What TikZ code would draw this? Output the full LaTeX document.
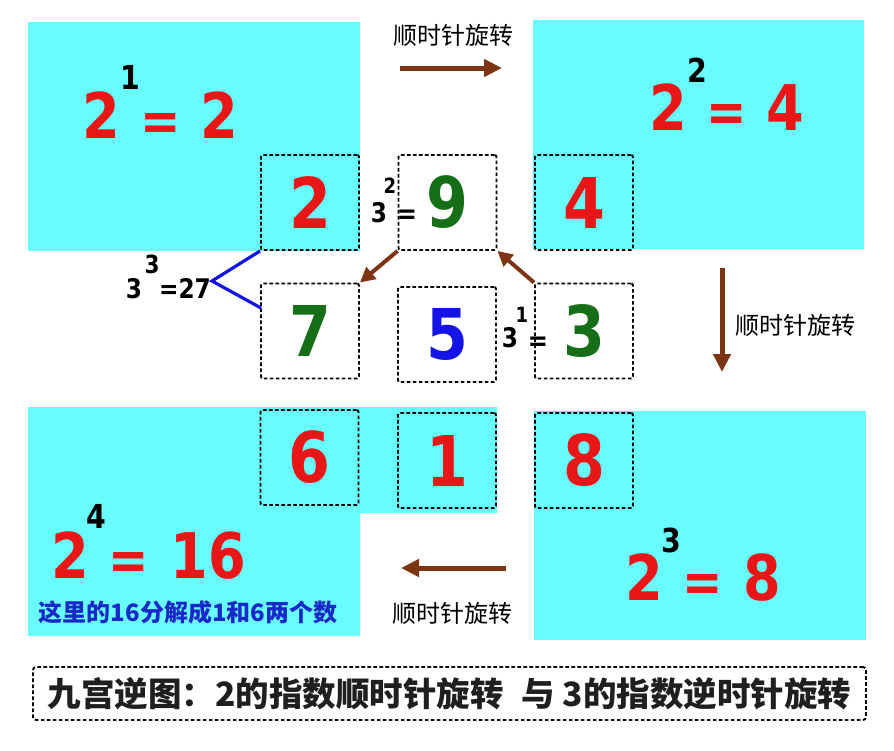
\documentclass[tikz,border=0pt]{standalone}
\usepackage{fontspec}
\setmainfont{DejaVu Sans}
\newfontfamily\cjk{Noto Sans CJK SC}
\newfontfamily\numf[FakeStretch=0.86]{DejaVu Sans}
\usetikzlibrary{arrows.meta}
\definecolor{cyanbg}{RGB}{104,252,252}
\definecolor{redd}{RGB}{232,22,22}
\definecolor{greend}{RGB}{22,110,22}
\definecolor{blued}{RGB}{20,20,230}
\definecolor{brownc}{RGB}{125,52,18}
\definecolor{bluet}{RGB}{25,40,200}
\newcommand\myfs[1]{\fontsize{#1}{#1}\selectfont}
\begin{document}
\begin{tikzpicture}[x=1pt,y=-1pt,
  cell/.style={draw=black, dash pattern=on 3.6pt off 2.4pt, line width=1.9pt, rounded corners=2pt,
    minimum width=98pt, minimum height=95pt, inner sep=0pt, font=\numf\bfseries\myfs{70}},
  eqd/.style={anchor=base, inner sep=0pt, text=redd, font=\numf\bfseries\myfs{63}},
  eqs/.style={anchor=base, inner sep=0pt, text=redd, font=\numf\bfseries\myfs{56}},
  supd/.style={anchor=base, inner sep=0pt, text=black, font=\numf\bfseries\myfs{33}},
  smd/.style={anchor=base, inner sep=0pt, text=black, font=\numf\bfseries\myfs{27}},
  sme/.style={anchor=base, inner sep=0pt, text=black, font=\numf\bfseries\myfs{28}},
  smsup/.style={anchor=base, inner sep=0pt, text=black, font=\numf\bfseries\myfs{21}},
  lbl/.style={inner sep=0pt, font=\cjk\myfs{24}},
  bigarrow/.style={draw=brownc, line width=5pt, -{Triangle[length=18pt,width=17pt]}},
  smallarrow/.style={draw=brownc, line width=4pt, -{Triangle[length=15pt,width=15pt]}},
  bline/.style={draw=blued, line width=3.2pt}
]
\useasboundingbox (0,0) rectangle (894,750);
\fill[white] (0,0) rectangle (894,750);

% cyan backgrounds
\fill[cyanbg] (28,22) rectangle (360,251);
\fill[cyanbg] (533,20) rectangle (864,249);
\fill[cyanbg] (28,407) -- (497,407) -- (497,513) -- (360,513) -- (360,636) -- (28,636) -- cycle;
\fill[cyanbg] (534,411) rectangle (866,640);

% cells
\node[cell, text=redd] (b2) at (310,202.5) {2};
\node[cell, text=greend] (b9) at (447.5,202.5) {9};
\node[cell, text=redd] (b4) at (584,202.5) {4};
\node[cell, text=greend] (b7) at (310,331) {7};
\node[cell, text=blued] (b5) at (447,334.5) {5};
\node[cell, text=greend] (b3) at (584,331) {3};
\node[cell, text=redd] (b6) at (309.5,457.5) {6};
\node[cell, text=redd] (b1) at (447,460.5) {1};
\node[cell, text=redd] (b8) at (584,460.5) {8};

% equations of 2
\node[eqd] (e1a) at (101,138) {2};
\node[supd] (e1s) at (130,89) {1};
\node[eqs] (e1b) at (161,140) {=};
\node[eqd] (e1c) at (219,138) {2};

\node[eqd] (e2a) at (668,130) {2};
\node[supd] (e2s) at (697,82) {2};
\node[eqs] (e2b) at (727,131) {=};
\node[eqd] (e2c) at (785,130) {4};

\node[eqd] (e3a) at (644,600) {2};
\node[supd] (e3s) at (671,552) {3};
\node[eqs] (e3b) at (703,601) {=};
\node[eqd] (e3c) at (762,600) {8};

\node[eqd] (e4a) at (70,578) {2};
\node[supd] (e4s) at (96,528) {4};
\node[eqs] (e4b) at (129,579) {=};
\node[eqd] (e4c) at (208,578) {16};

% equations of 3
\node[smd] (f2a) at (379,222) {3};
\node[smsup] (f2s) at (390,193) {2};
\node[sme] (f2b) at (407,223) {=};

\node[smd] (f1a) at (510,347) {3};
\node[smsup] (f1s) at (522,322) {1};
\node[sme] (f1b) at (538,350) {=};

\node[smd] (f3a) at (134,298) {3};
\node[smd, font=\numf\bfseries\myfs{25}] (f3s) at (152,273) {3};
\node[smd] (f3b) at (185,298) {=27};

% blue lines
\coordinate (apex) at (212,281);
\coordinate (lowend) at (261,308);
\draw[bline] (b2.south west) -- (apex) -- (lowend);

% small arrows
\draw[smallarrow] (b9.south west) -- (b7.north east);
\draw[smallarrow] (b3.north west) -- (b9.south east);

% big arrows
\coordinate (t1) at (400,68);
\coordinate (t2) at (502,68);
\coordinate (r1) at (722,268);
\coordinate (r2) at (722,372);
\coordinate (d1) at (506,568);
\coordinate (d2) at (401,568);
\draw[bigarrow] (t1) -- (t2);
\draw[bigarrow] (r1) -- (r2);
\draw[bigarrow] (d1) -- (d2);

\node[lbl] (l1) at (453,35) {顺时针旋转};
\node[lbl] (l2) at (795,325) {顺时针旋转};
\node[lbl] (l3) at (452,613) {顺时针旋转};

% blue note
\node[inner sep=0pt, text=bluet, font=\cjk\bfseries\myfs{24}] (note) at (188,612) {这里的16分解成1和6两个数};

% caption
\node[draw=black, dash pattern=on 3.6pt off 2.4pt, line width=1.9pt, rounded corners=3pt,
  minimum width=833pt, minimum height=53pt, inner sep=0pt, text=black!88,
  font=\cjk\bfseries\myfs{33.5}] (cap) at (449.5,693.5) {九宫逆图：2的指数顺时针旋转\hspace{18pt}与 3的指数逆时针旋转};
\end{tikzpicture}
\end{document}
